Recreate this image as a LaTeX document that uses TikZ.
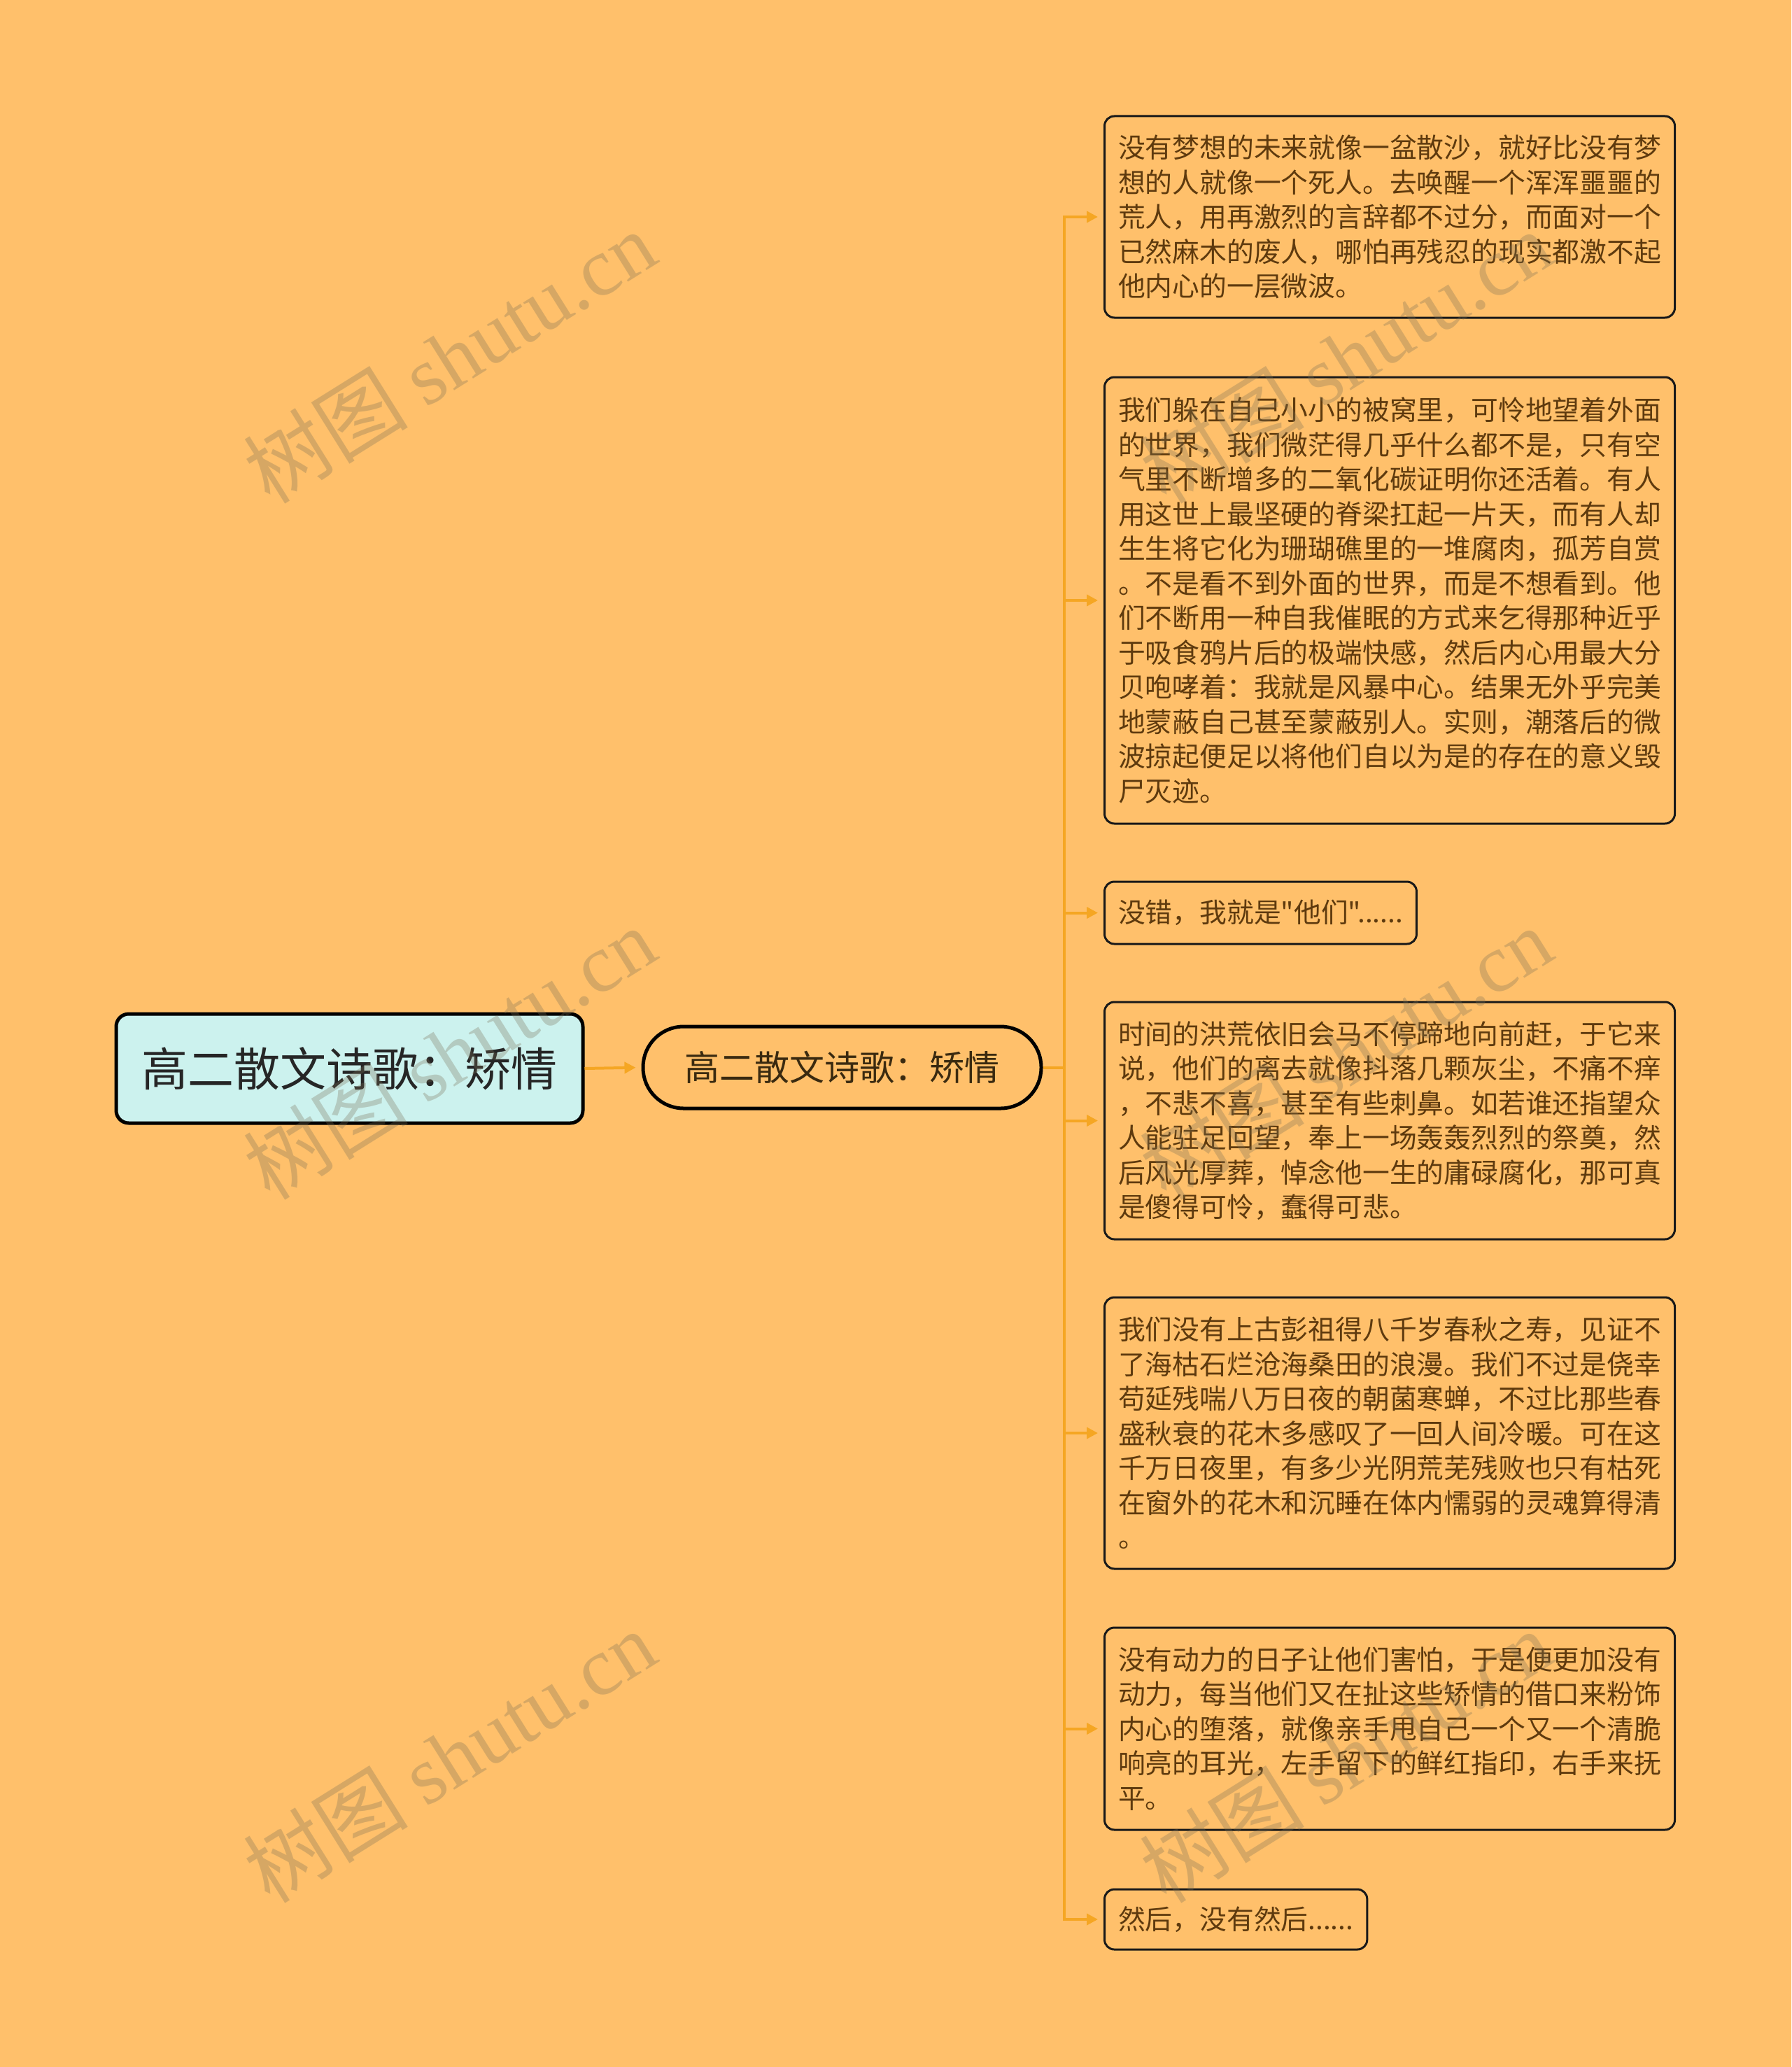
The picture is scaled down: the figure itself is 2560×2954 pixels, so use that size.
\documentclass[tikz,border=0pt]{standalone}
\usepackage{fontspec}
\setmainfont{Noto Sans CJK SC}[Ligatures=TeXOff]
\newfontfamily\wmlatin{Liberation Serif}
\usetikzlibrary{arrows.meta}
\definecolor{bg}{HTML}{FFC06B}
\definecolor{linecol}{HTML}{F5A623}
\definecolor{rootfill}{HTML}{CCF2EE}
\definecolor{leaftext}{HTML}{5E3A0E}
\definecolor{midtext}{HTML}{3A2A10}
\definecolor{wm}{RGB}{122,112,86}
\begin{document}
\begin{tikzpicture}[x=1pt,y=-1pt,
  rootbox/.style={draw=black, line width=5pt, fill=rootfill, rounded corners=18pt,
    minimum width=667pt, minimum height=156pt, inner sep=0pt,
    font=\fontsize{66}{80}\selectfont, text=black!85},
  midbox/.style={draw=black, line width=5pt, fill=bg, rounded corners=58pt,
    minimum width=569pt, minimum height=117pt, inner sep=0pt,
    font=\fontsize{50}{60}\selectfont, text=midtext},
  leafbox/.style={draw=black!90, line width=3pt, fill=bg, rounded corners=14pt,
    anchor=west, inner xsep=19.5pt, inner ysep=0pt, align=left,
    font=\fontsize{38.8}{49.5}\selectfont, text=leaftext},
  link/.style={draw=linecol, line width=4pt, -{Triangle[length=16pt,width=16pt]}, shorten >=8pt},
  wmark/.style={text=wm, text opacity=0.3, rotate=32, inner sep=0pt,
    font=\fontsize{118}{118}\selectfont}
]
\fill[bg] (0,0) rectangle (2560,2954);
\useasboundingbox (0,0) rectangle (2560,2954);

\node[rootbox] (root) at (499.5,1527) {高二散文诗歌：矫情};
\node[midbox] (mid) at (1203.5,1525.5) {高二散文诗歌：矫情};

\node[leafbox, minimum width=815pt, minimum height=288pt] (l1) at (1577,310) {没有梦想的未来就像一盆散沙，就好比没有梦\\想的人就像一个死人。去唤醒一个浑浑噩噩的\\荒人，用再激烈的言辞都不过分，而面对一个\\已然麻木的废人，哪怕再残忍的现实都激不起\\他内心的一层微波。};
\node[leafbox, minimum width=815pt, minimum height=638pt] (l2) at (1577,858) {我们躲在自己小小的被窝里，可怜地望着外面\\的世界，我们微茫得几乎什么都不是，只有空\\气里不断增多的二氧化碳证明你还活着。有人\\用这世上最坚硬的脊梁扛起一片天，而有人却\\生生将它化为珊瑚礁里的一堆腐肉，孤芳自赏\\。不是看不到外面的世界，而是不想看到。他\\们不断用一种自我催眠的方式来乞得那种近乎\\于吸食鸦片后的极端快感，然后内心用最大分\\贝咆哮着：我就是风暴中心。结果无外乎完美\\地蒙蔽自己甚至蒙蔽别人。实则，潮落后的微\\波掠起便足以将他们自以为是的存在的意义毁\\尸灭迹。};
\node[leafbox, minimum height=89pt] (l3) at (1577,1304.5) {没错，我就是"他们"......};
\node[leafbox, minimum width=815pt, minimum height=339pt] (l4) at (1577,1601.5) {时间的洪荒依旧会马不停蹄地向前赶，于它来\\说，他们的离去就像抖落几颗灰尘，不痛不痒\\，不悲不喜，甚至有些刺鼻。如若谁还指望众\\人能驻足回望，奉上一场轰轰烈烈的祭奠，然\\后风光厚葬，悼念他一生的庸碌腐化，那可真\\是傻得可怜，蠢得可悲。};
\node[leafbox, minimum width=815pt, minimum height=388pt] (l5) at (1577,2048) {我们没有上古彭祖得八千岁春秋之寿，见证不\\了海枯石烂沧海桑田的浪漫。我们不过是侥幸\\苟延残喘八万日夜的朝菌寒蝉，不过比那些春\\盛秋衰的花木多感叹了一回人间冷暖。可在这\\千万日夜里，有多少光阴荒芜残败也只有枯死\\在窗外的花木和沉睡在体内懦弱的灵魂算得清\\。};
\node[leafbox, minimum width=815pt, minimum height=289pt] (l6) at (1577,2470.5) {没有动力的日子让他们害怕，于是便更加没有\\动力，每当他们又在扯这些矫情的借口来粉饰\\内心的堕落，就像亲手甩自己一个又一个清脆\\响亮的耳光，左手留下的鲜红指印，右手来抚\\平。};
\node[leafbox, minimum height=86pt] (l7) at (1577,2743) {然后，没有然后......};

\draw[link] (root.east) -- (mid.west);
\foreach \l in {l1,l2,l3,l4,l5,l6,l7}
  \draw[link] (mid.east) -- ++(30,0) |- (\l.west);

\foreach \p/\n in {{(642,510)}/w1,{(642,1505)}/w2,{(642,2510)}/w3,{(1923,510)}/w4,{(1923,1505)}/w5,{(1923,2510)}/w6}
  \node[wmark] (\n) at \p {树图 {\wmlatin shutu.cn}};
\end{tikzpicture}
\end{document}
